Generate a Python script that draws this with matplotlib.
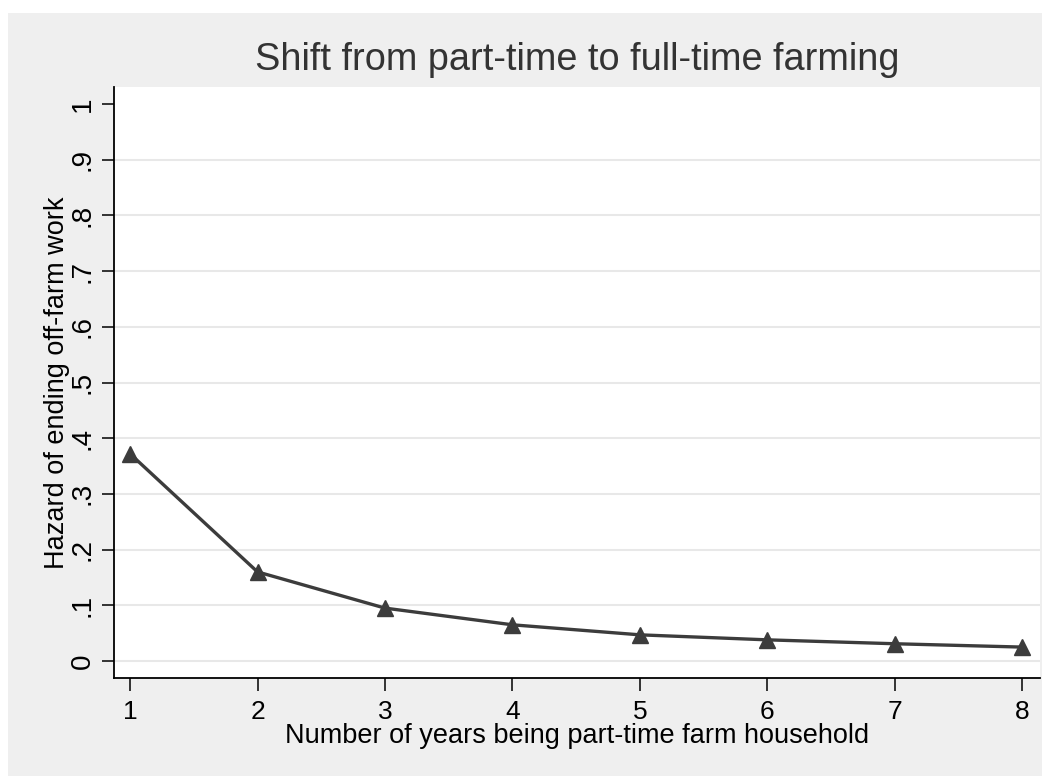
import matplotlib
matplotlib.use("Agg")
import matplotlib.pyplot as plt
from matplotlib.patches import Rectangle

years = [1, 2, 3, 4, 5, 6, 7, 8]
hazard = [0.372, 0.160, 0.095, 0.065, 0.047, 0.038, 0.031, 0.025]
yticks = [0, 0.1, 0.2, 0.3, 0.4, 0.5, 0.6, 0.7, 0.8, 0.9, 1.0]
ytick_labels = ["0", ".1", ".2", ".3", ".4", ".5", ".6", ".7", ".8", ".9", "1"]

plt.rcParams['font.family'] = ['Liberation Sans', 'DejaVu Sans']

fig = plt.figure(figsize=(10.42, 7.76), dpi=100, facecolor='white')
# gray Stata-like background, leaving a thin white border top/left
fig.patches.append(Rectangle((8 / 1042, 0), 1 - 8 / 1042, 1 - 13 / 776,
                             transform=fig.transFigure, facecolor='#efefef',
                             edgecolor='none', zorder=-10))

ax = fig.add_axes([114 / 1042, (776 - 678) / 776, (1040 - 114) / 1042, (678 - 87) / 776])
ax.set_facecolor('white')

for t in yticks[:-1]:
    ax.axhline(t, color='#e8e8e8', lw=1.5, zorder=1)

ax.plot(years, hazard, color='#3c3c3c', lw=2.4, marker='^', markersize=11,
        markerfacecolor='#3c3c3c', markeredgecolor='#3c3c3c', zorder=3)

ax.set_xlim(0.874, 8.14)
ax.set_ylim(-0.0305, 1.0305)
ax.set_xticks(years)
ax.set_yticks(yticks)
ax.set_yticklabels(ytick_labels, rotation=90, va='center')

for s in ['top', 'right']:
    ax.spines[s].set_visible(False)
for s in ['left', 'bottom']:
    ax.spines[s].set_color('black')
    ax.spines[s].set_linewidth(1.3)

ax.tick_params(axis='both', length=9, width=1.1, color='black', labelcolor='black')
ax.tick_params(axis='y', pad=4, labelsize=20)
ax.tick_params(axis='x', pad=7, labelsize=19)

ax.set_xlabel("Number of years being part-time farm household", fontsize=19.5, labelpad=-1)
ax.set_ylabel("Hazard of ending off-farm work", fontsize=19.5, labelpad=0)
ax.set_title("Shift from part-time to full-time farming", fontsize=27.3, color='#333333', pad=12)

fig.savefig("out.png", dpi=100, facecolor=fig.get_facecolor())
